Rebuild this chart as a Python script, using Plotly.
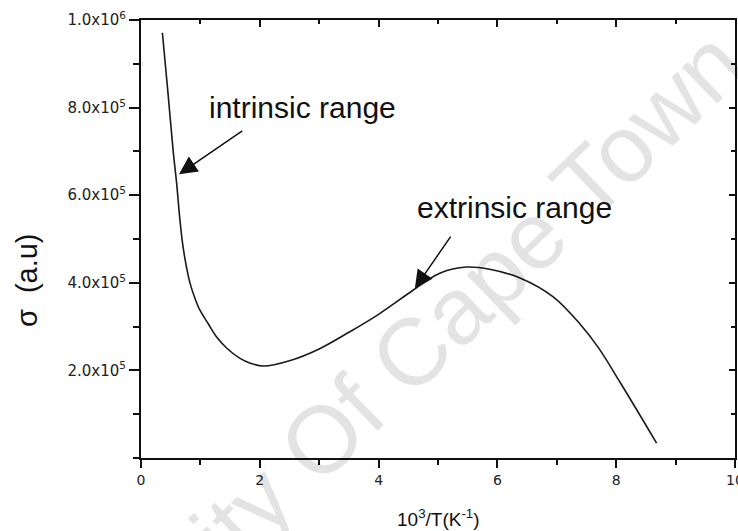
import plotly.graph_objects as go

# Data
inv_T = [0.36, 0.45, 0.54, 0.60, 0.65, 0.70, 0.76, 0.83, 0.91, 0.99, 1.13, 1.27, 1.45,
         1.66, 1.85, 2.06, 2.50, 3.00, 3.50, 4.00, 4.58, 5.03, 5.48, 5.87, 6.40,
         6.94, 7.39, 7.70, 8.06, 8.68]
sigma = [9.71e5, 8.40e5, 7.03e5, 6.27e5, 5.51e5, 4.90e5, 4.40e5, 3.97e5, 3.64e5, 3.38e5,
         3.07e5, 2.77e5, 2.50e5, 2.28e5, 2.16e5, 2.10e5, 2.22e5, 2.49e5, 2.87e5, 3.28e5,
         3.83e5, 4.22e5, 4.36e5, 4.31e5, 4.10e5, 3.68e5, 3.06e5, 2.52e5, 1.74e5, 0.34e5]

x_ticks = [0, 2, 4, 6, 8, 10]
x_ticktext = ["0", "2", "4", "6", "8", "10"]
y_ticks = [2e5, 4e5, 6e5, 8e5, 1e6]
y_ticktext = ["2.0x10<sup>5</sup>", "4.0x10<sup>5</sup>", "6.0x10<sup>5</sup>",
              "8.0x10<sup>5</sup>", "1.0x10<sup>6</sup>"]

x_range = [0, 10]
y_range = [0, 1e6]

FONT = "Liberation Sans, Arial, sans-serif"
TICKFONT = "DejaVu Sans, sans-serif"

fig = go.Figure()
fig.add_trace(go.Scatter(x=inv_T, y=sigma, mode="lines",
                         line=dict(color="#1a1a1a", width=1.6, shape="spline", smoothing=1.0),
                         hoverinfo="skip", showlegend=False))
# invisible trace to host the mirrored (top/right) axes
fig.add_trace(go.Scatter(x=inv_T, y=sigma, mode="lines", xaxis="x2", yaxis="y2",
                         line=dict(color="rgba(0,0,0,0)", width=0),
                         hoverinfo="skip", showlegend=False))

axis_common = dict(showgrid=False, zeroline=False, showline=True, linecolor="#111",
                   linewidth=2, tickcolor="#111", tickwidth=1.5, automargin=False)

fig.update_layout(
    width=738, height=531,
    margin=dict(l=141, r=3, t=20, b=73),
    paper_bgcolor="white", plot_bgcolor="white",
    font=dict(family=FONT, color="#222"),
    xaxis=dict(range=x_range, tickmode="array", tickvals=x_ticks, ticktext=x_ticktext,
               ticks="outside", ticklen=8, ticklabeloverflow="allow",
               tickfont=dict(size=14, family=TICKFONT, color="#222"),
               minor=dict(tickmode="linear", tick0=0, dtick=1, ticks="outside", ticklen=5,
                          tickcolor="#111", tickwidth=1.5),
               **axis_common),
    yaxis=dict(range=y_range, tickmode="array", tickvals=y_ticks, ticktext=y_ticktext,
               ticks="outside", ticklen=10, ticklabeloverflow="allow",
               tickfont=dict(size=15, family=TICKFONT, color="#222"),
               minor=dict(tickmode="linear", tick0=0, dtick=1e5, ticks="outside", ticklen=6,
                          tickcolor="#111", tickwidth=1.5),
               **axis_common),
    xaxis2=dict(range=x_range, overlaying="x", side="top", anchor="y",
                tickmode="array", tickvals=x_ticks, showticklabels=False,
                ticks="inside", ticklen=7,
                minor=dict(tickmode="linear", tick0=0, dtick=1, ticks="inside", ticklen=4,
                           tickcolor="#111", tickwidth=1.5),
                **axis_common),
    yaxis2=dict(range=y_range, overlaying="y", side="right", anchor="x",
                tickmode="array", tickvals=y_ticks, showticklabels=False,
                ticks="inside", ticklen=6,
                minor=dict(tickmode="linear", tick0=0, dtick=1e5, ticks="inside", ticklen=4,
                           tickcolor="#111", tickwidth=1.5),
                **axis_common),
)

annotations = [
    # watermark
    dict(text="University Of Cape Town", xref="paper", yref="paper", x=0.355, y=0.11,
         xanchor="center", yanchor="middle",
         showarrow=False, textangle=-44, font=dict(size=95, family=FONT, color="rgba(0,0,0,0.11)")),
    # axis titles
    dict(text="σ  (a.u)", xref="paper", yref="paper", x=-0.192, y=0.406, showarrow=False,
         xanchor="center", yanchor="middle",
         textangle=-90, font=dict(size=29, family=FONT, color="#111")),
    dict(text="10<sup>3</sup>/T(K<sup>-1</sup>)", xref="paper", yref="paper", x=0.5, y=-0.137,
         xanchor="center", yanchor="middle",
         showarrow=False, font=dict(size=19, family=FONT, color="#111")),
    # labels
    dict(text="intrinsic range", x=2.72, y=8.01e5, xref="x", yref="y", showarrow=False,
         xanchor="center", yanchor="middle",
         font=dict(size=30, family=FONT, color="#111")),
    dict(text="extrinsic range", x=6.28, y=5.71e5, xref="x", yref="y", showarrow=False,
         xanchor="center", yanchor="middle",
         font=dict(size=30, family=FONT, color="#111")),
    # arrows
    dict(text="", x=0.64, y=6.48e5, ax=1.73, ay=7.49e5, xref="x", yref="y",
         axref="x", ayref="y", showarrow=True, arrowhead=2, arrowsize=2.4, arrowwidth=1.5,
         arrowcolor="#111", standoff=0),
    dict(text="", x=4.61, y=3.87e5, ax=5.23, ay=5.09e5, xref="x", yref="y",
         axref="x", ayref="y", showarrow=True, arrowhead=2, arrowsize=2.4, arrowwidth=1.5,
         arrowcolor="#111", standoff=0),
]
fig.update_layout(annotations=annotations)

fig.write_html("out.html")
